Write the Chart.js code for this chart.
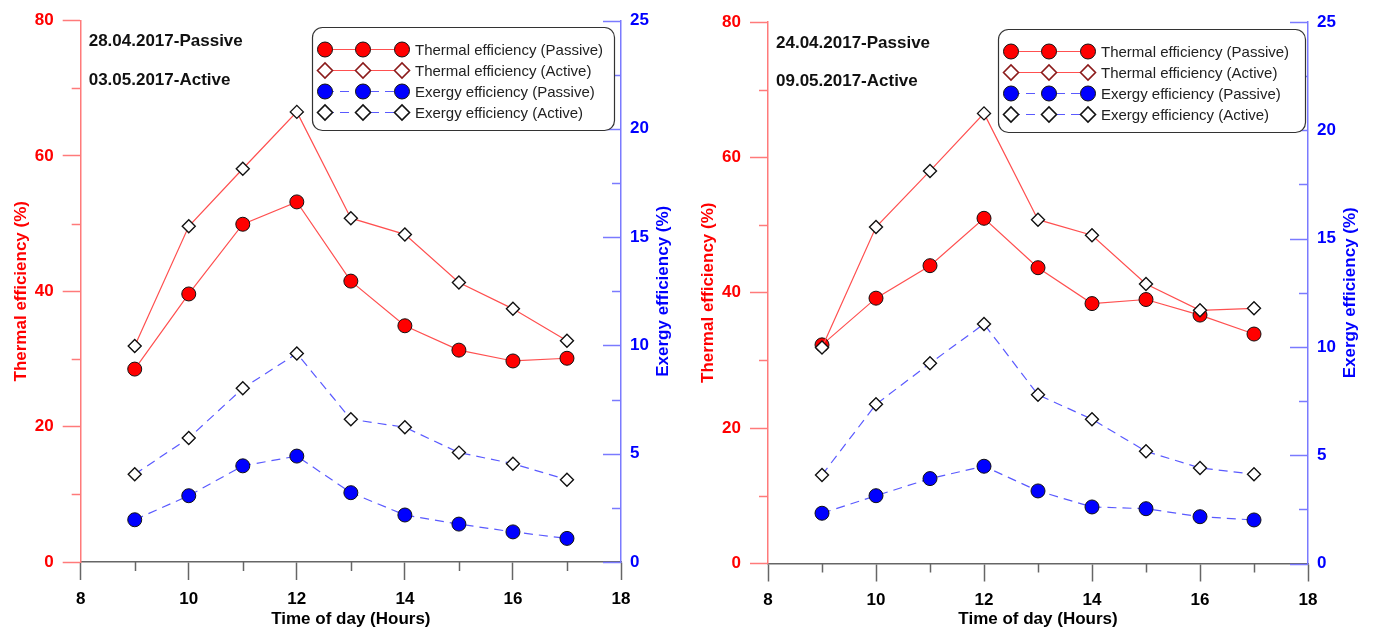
<!DOCTYPE html>
<html><head><meta charset="utf-8">
<script src="https://cdn.jsdelivr.net/npm/chart.js@4"></script>
<style>
html,body{margin:0;padding:0;background:#fff;}
#wrap{position:relative;width:1373px;height:630px;overflow:hidden;background:#fff}
.box{position:absolute;top:0;height:630px}
#b1{left:0;width:686px}
#b2{left:686px;width:687px}
</style></head><body>
<div id="wrap"><div class="box" id="b1"><canvas id="c1"></canvas></div><div class="box" id="b2"><canvas id="c2"></canvas></div></div>
<script>
const hours = [9, 10, 11, 12, 13, 14, 15, 16, 17];
const xTicks = [8, 10, 12, 14, 16, 18];
const xMinorTicks = [9, 11, 13, 15, 17];
const thermalTicks = [0, 20, 40, 60, 80];
const thermalMinorTicks = [10, 30, 50, 70];
const exergyTicks = [0, 5, 10, 15, 20, 25];
const exergyMinorTicks = [2.5, 7.5, 12.5, 17.5, 22.5];
const seriesNames = ['Thermal efficiency (Passive)', 'Thermal efficiency (Active)', 'Exergy efficiency (Passive)', 'Exergy efficiency (Active)'];
const leftDates = ['28.04.2017-Passive', '03.05.2017-Active'];
const rightDates = ['24.04.2017-Passive', '09.05.2017-Active'];

const leftThermalPassive = [28.5, 39.6, 49.9, 53.2, 41.5, 34.9, 31.3, 29.7, 30.1];
const leftThermalActive  = [31.9, 49.6, 58.1, 66.5, 50.8, 48.4, 41.3, 37.4, 32.7];
const leftExergyPassive  = [1.95, 3.06, 4.44, 4.89, 3.20, 2.17, 1.75, 1.39, 1.09];
const leftExergyActive   = [4.05, 5.72, 8.02, 9.63, 6.59, 6.22, 5.05, 4.54, 3.80];

const rightThermalPassive = [32.3, 39.2, 44.0, 51.0, 43.7, 38.4, 39.0, 36.7, 33.9];
const rightThermalActive  = [31.9, 49.7, 58.0, 66.5, 50.8, 48.5, 41.3, 37.4, 37.7];
const rightExergyPassive  = [2.32, 3.13, 3.92, 4.49, 3.35, 2.61, 2.53, 2.16, 2.01];
const rightExergyActive   = [4.09, 7.35, 9.24, 11.06, 7.79, 6.66, 5.18, 4.41, 4.12];

const FONT = '"Liberation Sans", Arial, Helvetica, sans-serif';
Chart.defaults.font.family = FONT;

const RED_LINE = '#ff5050';
const BLUE_LINE = '#5a5aff';
const RED_AXIS = '#ff7a7a';
const BLUE_AXIS = '#7a7aff';
const X_AXIS = '#666666';

function pts(arr) { return hours.map((h, i) => ({ x: h, y: arr[i] })); }
function setTicks(list) { return function (scale) { scale.ticks = list.map(v => ({ value: v })); }; }

function drawMarker(ctx, style, x, y, r, fill, stroke, lw) {
  ctx.save();
  ctx.beginPath();
  if (style === 'circle') {
    ctx.arc(x, y, r, 0, Math.PI * 2);
  } else {
    ctx.moveTo(x - r, y); ctx.lineTo(x, y - r); ctx.lineTo(x + r, y); ctx.lineTo(x, y + r); ctx.closePath();
  }
  ctx.fillStyle = fill; ctx.fill();
  ctx.lineWidth = lw; ctx.strokeStyle = stroke; ctx.stroke();
  ctx.restore();
}

const decorPlugin = {
  id: 'decor',
  afterDraw(chart) {
    const o = chart.options.plugins.decor;
    const ctx = chart.ctx;
    const ca = chart.chartArea;
    const sx = chart.scales.x, sy = chart.scales.y, sy2 = chart.scales.y2;
    ctx.save();
    ctx.lineWidth = 1.5;
    ctx.strokeStyle = RED_AXIS;
    thermalMinorTicks.forEach(v => {
      const py = Math.round(sy.getPixelForValue(v)) + 0.5;
      ctx.beginPath(); ctx.moveTo(ca.left - 9, py); ctx.lineTo(ca.left, py); ctx.stroke();
    });
    ctx.strokeStyle = BLUE_AXIS;
    exergyTicks.forEach(v => {
      const py = Math.round(sy2.getPixelForValue(v)) + 0.5;
      ctx.beginPath(); ctx.moveTo(ca.right - 18, py); ctx.lineTo(ca.right, py); ctx.stroke();
    });
    exergyMinorTicks.forEach(v => {
      const py = Math.round(sy2.getPixelForValue(v)) + 0.5;
      ctx.beginPath(); ctx.moveTo(ca.right - 9, py); ctx.lineTo(ca.right, py); ctx.stroke();
    });
    ctx.strokeStyle = X_AXIS;
    xMinorTicks.forEach(v => {
      const px = Math.round(sx.getPixelForValue(v)) + 0.5;
      ctx.beginPath(); ctx.moveTo(px, ca.bottom); ctx.lineTo(px, ca.bottom + 9); ctx.stroke();
    });
    ctx.save();
    ctx.translate(chart.width - o.rightTitleOffset, (ca.top + ca.bottom) / 2);
    ctx.rotate(-Math.PI / 2);
    ctx.fillStyle = '#0000ff';
    ctx.font = 'bold 17px ' + FONT;
    ctx.textAlign = 'center'; ctx.textBaseline = 'middle';
    ctx.fillText('Exergy efficiency (%)', 0, 0);
    ctx.restore();
    ctx.fillStyle = '#111';
    ctx.font = 'bold 17px ' + FONT;
    ctx.textAlign = 'left'; ctx.textBaseline = 'middle';
    ctx.fillText(o.dates[0], ca.left + 8, ca.top + 21);
    ctx.fillText(o.dates[1], ca.left + 8, ca.top + 59.5);
    const L = o.legend;
    ctx.beginPath();
    if (ctx.roundRect) ctx.roundRect(L.x + 0.5, L.y + 0.5, L.w, L.h, 10); else ctx.rect(L.x + 0.5, L.y + 0.5, L.w, L.h);
    ctx.fillStyle = '#fff'; ctx.fill();
    ctx.lineWidth = 1.2; ctx.strokeStyle = '#333'; ctx.stroke();
    const rows = [22.5, 43.5, 64.5, 85.5];
    const mx = [13, 51, 90];
    const specs = [
      { line: RED_LINE, dash: [], style: 'circle', r: 7.5, fill: '#ff0000', stroke: '#111', lw: 1 },
      { line: RED_LINE, dash: [], style: 'diamond', r: 7.5, fill: '#fff', stroke: '#8b1a1a', lw: 1.6 },
      { line: BLUE_LINE, dash: [9, 6], style: 'circle', r: 7.5, fill: '#0000ff', stroke: '#111', lw: 1 },
      { line: BLUE_LINE, dash: [9, 6], style: 'diamond', r: 7.5, fill: '#fff', stroke: '#111', lw: 1.6 }
    ];
    specs.forEach((s, i) => {
      const yy = L.y + rows[i];
      ctx.save();
      ctx.strokeStyle = s.line; ctx.lineWidth = 1.2; ctx.setLineDash(s.dash);
      ctx.beginPath(); ctx.moveTo(L.x + mx[0], yy); ctx.lineTo(L.x + mx[2], yy); ctx.stroke();
      ctx.restore();
      mx.forEach(m => drawMarker(ctx, s.style, L.x + m, yy, s.r, s.fill, s.stroke, s.lw));
      ctx.fillStyle = '#222';
      ctx.font = '15px ' + FONT;
      ctx.textAlign = 'left'; ctx.textBaseline = 'middle';
      ctx.fillText(seriesNames[i], L.x + 103, yy + 1);
    });
    ctx.restore();
  }
};

function makeChart(id, tp, ta, ep, ea, geom) {
  const ds = (label, arr, axis, color, dash, style, r, fill, lw, order) => ({
    label, data: pts(arr), yAxisID: axis,
    borderColor: color, borderWidth: 1.2, borderDash: dash, tension: 0, fill: false,
    pointStyle: style, pointRadius: r, pointHoverRadius: r,
    pointBackgroundColor: fill, pointBorderColor: '#111', pointBorderWidth: lw, order
  });
  return new Chart(document.getElementById(id), {
    type: 'line',
    data: {
      datasets: [
        ds(seriesNames[0], tp, 'y', RED_LINE, [], 'circle', 7, '#ff0000', 1, 4),
        ds(seriesNames[2], ep, 'y2', BLUE_LINE, [9, 6], 'circle', 7, '#0000ff', 1, 3),
        ds(seriesNames[1], ta, 'y', RED_LINE, [], 'rectRot', 6.5, '#ffffff', 1.4, 2),
        ds(seriesNames[3], ea, 'y2', BLUE_LINE, [9, 6], 'rectRot', 6.5, '#ffffff', 1.4, 1)
      ]
    },
    options: {
      responsive: true, maintainAspectRatio: false, animation: false,
      events: [],
      layout: { padding: { top: geom.top, bottom: 0, left: 0, right: 0 } },
      plugins: {
        legend: { display: false }, tooltip: { enabled: false },
        decor: { dates: geom.dates, legend: geom.legend, rightTitleOffset: geom.rightTitleOffset }
      },
      scales: {
        x: {
          type: 'linear', position: 'bottom', min: 8, max: 18,
          afterBuildTicks: setTicks(xTicks),
          afterFit: s => { s.height = geom.xHeight; },
          ticks: { color: '#000', font: { size: 17, weight: 'bold' }, padding: 9, maxRotation: 0, autoSkip: false },
          grid: { drawOnChartArea: false, drawTicks: true, tickLength: 18, tickColor: X_AXIS, tickWidth: 1.5 },
          border: { color: X_AXIS, width: 1.5 },
          title: { display: true, text: 'Time of day (Hours)', color: '#000', font: { size: 17, weight: 'bold' }, padding: { top: 0, bottom: 0 } }
        },
        y: {
          type: 'linear', position: 'left', min: 0, max: 80,
          afterBuildTicks: setTicks(thermalTicks),
          afterFit: s => { s.width = geom.leftWidth; },
          ticks: { color: '#ff0000', font: { size: 17, weight: 'bold' }, padding: 9 },
          grid: { drawOnChartArea: false, drawTicks: true, tickLength: 18, tickColor: RED_AXIS, tickWidth: 1.5 },
          border: { color: RED_AXIS, width: 1.5 },
          title: { display: true, text: 'Thermal efficiency (%)', color: '#ff0000', font: { size: 17, weight: 'bold' }, padding: { top: geom.leftTitlePad, bottom: 0 } }
        },
        y2: {
          type: 'linear', position: 'right', min: 0, max: 25,
          afterBuildTicks: setTicks(exergyTicks),
          afterFit: s => { s.width = geom.rightWidth; },
          ticks: { color: '#0000ff', font: { size: 17, weight: 'bold' }, padding: 9 },
          grid: { drawOnChartArea: false, drawTicks: false },
          border: { color: BLUE_AXIS, width: 1.5 }
        }
      }
    },
    plugins: [decorPlugin]
  });
}

makeChart('c1', leftThermalPassive, leftThermalActive, leftExergyPassive, leftExergyActive, {
  top: 20.5, xHeight: 68, leftWidth: 80.7, rightWidth: 65, leftTitlePad: 11, rightTitleOffset: 23,
  dates: leftDates, legend: { x: 312, y: 27, w: 302, h: 103 }
});
makeChart('c2', rightThermalPassive, rightThermalActive, rightExergyPassive, rightExergyActive, {
  top: 22, xHeight: 66.5, leftWidth: 82, rightWidth: 65, leftTitlePad: 12.4, rightTitleOffset: 23,
  dates: rightDates, legend: { x: 312, y: 29, w: 307, h: 103 }
});
</script>
</body></html>
